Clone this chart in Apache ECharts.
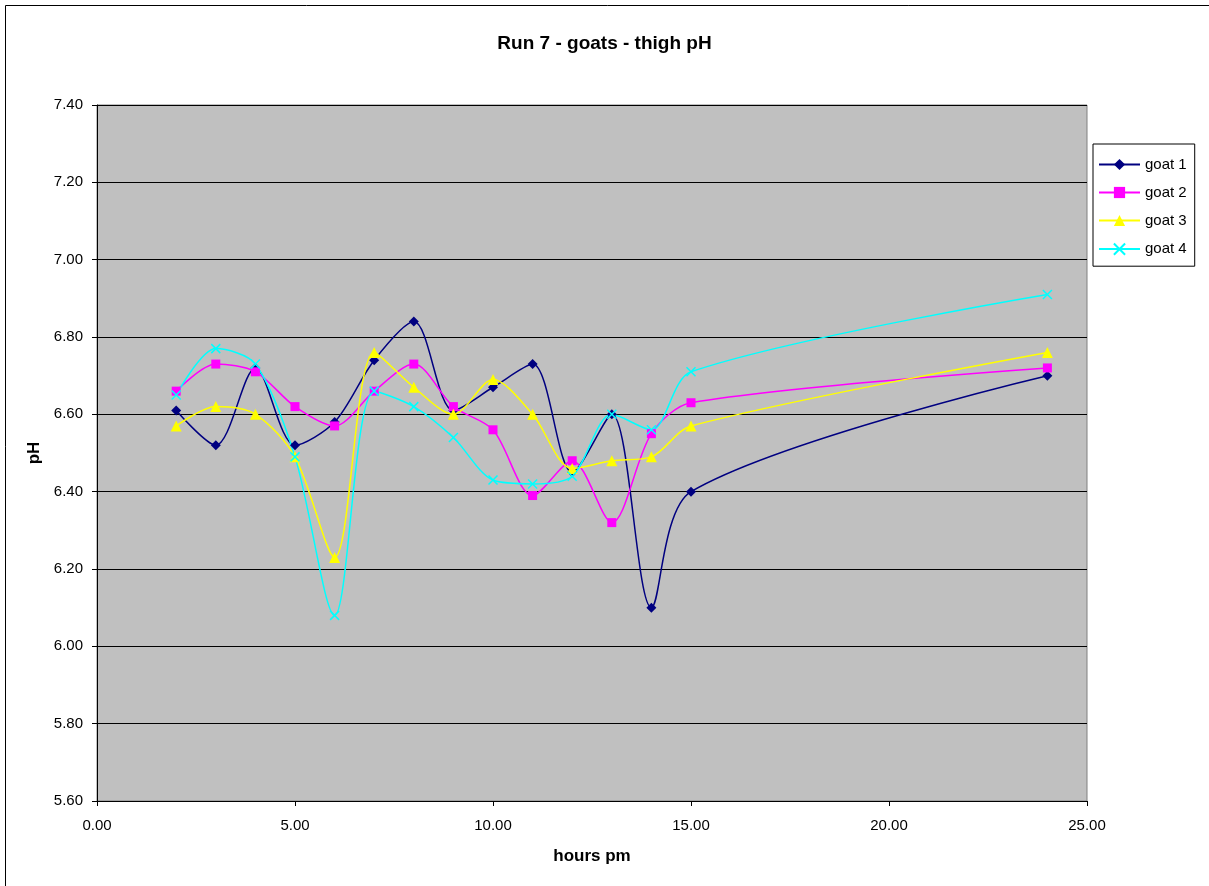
<!DOCTYPE html>
<html><head><meta charset="utf-8">
<script src="https://cdn.jsdelivr.net/npm/echarts@6/dist/echarts.min.js"></script>
<style>html,body{margin:0;padding:0;background:#fff}#c{width:1209px;height:886px}</style>
</head><body><div id="c"></div>
<script>
const hours = [2,3,4,5,6,7,8,9,10,11,12,13,14,15,24];
const goat1 = [6.61,6.52,6.72,6.52,6.58,6.74,6.84,6.61,6.67,6.73,6.45,6.60,6.10,6.40,6.70];
const goat2 = [6.66,6.73,6.71,6.62,6.57,6.66,6.73,6.62,6.56,6.39,6.48,6.32,6.55,6.63,6.72];
const goat3 = [6.57,6.62,6.60,6.49,6.23,6.76,6.67,6.60,6.69,6.60,6.46,6.48,6.49,6.57,6.76];
const goat4 = [6.65,6.77,6.73,6.49,6.08,6.66,6.62,6.54,6.43,6.42,6.44,6.60,6.56,6.71,6.91];
const names = ['goat 1','goat 2','goat 3','goat 4'];
const colors = ['#000080','#FF00FF','#FFFF00','#00FFFF'];
const FONT = '"Liberation Sans", Arial, sans-serif';

function pts(ys){ return hours.map((h,i)=>[h, ys[i]]); }
const symbols = ['diamond','rect','triangle','path://M0,0L10,10M10,0L0,10'];
const sizes = [10,9,11,9];
const data = [goat1,goat2,goat3,goat4];

const series = data.map((d,i)=>({
  name: names[i], type:'line', data: pts(d), smooth: 0.3,
  symbol: symbols[i], symbolSize: sizes[i], showAllSymbol: true,
  lineStyle:{color:colors[i], width:1.5},
  itemStyle: i===3 ? {color:'none', borderColor:colors[i], borderWidth:1.5} : {color:colors[i], borderWidth:0},
  emphasis:{disabled:true}, animation:false
}));

const chart = echarts.init(document.getElementById('c'), null, {renderer:'canvas'});
chart.setOption({
  animation:false,
  backgroundColor:'#fff',
  title:{text:'Run 7 - goats - thigh pH', left:'center', top:29,
    textStyle:{fontFamily:FONT, fontSize:19, fontWeight:'bold', color:'#000'}},
  graphic:[{type:'rect', shape:{x:5.5,y:5.5,width:1220,height:900}, style:{fill:'none', stroke:'#000', lineWidth:1}, silent:true, z:-1}],
  grid:{left:97, right:122, top:105, bottom:85, show:true, backgroundColor:'#C0C0C0', borderColor:'#808080', borderWidth:1},
  legend:{orient:'vertical', left:1093, top:144, padding:[13,8,9,5], itemGap:13, itemWidth:41, itemHeight:14,
    backgroundColor:'#fff', borderColor:'#000', borderWidth:1,
    textStyle:{fontFamily:FONT, fontSize:15, color:'#000'}, data:names},
  xAxis:{type:'value', min:0, max:25, interval:5, name:'hours pm', nameLocation:'middle', nameGap:47,
    nameTextStyle:{fontFamily:FONT, fontSize:17, fontWeight:'bold', color:'#000'},
    axisLine:{show:true, lineStyle:{color:'#000'}}, axisTick:{show:true, inside:false, length:5, lineStyle:{color:'#000'}},
    splitLine:{show:false},
    axisLabel:{fontFamily:FONT, fontSize:15, color:'#000', margin:17, formatter:v=>v.toFixed(2)}},
  yAxis:{type:'value', min:5.6, max:7.4, interval:0.2, name:'pH', nameLocation:'middle', nameGap:52,
    nameTextStyle:{fontFamily:FONT, fontSize:17, fontWeight:'bold', color:'#000'},
    axisLine:{show:true, lineStyle:{color:'#000'}}, axisTick:{show:true, inside:false, length:5, lineStyle:{color:'#000'}},
    splitLine:{show:true, lineStyle:{color:'#000', width:1}},
    axisLabel:{fontFamily:FONT, fontSize:15, color:'#000', margin:14, formatter:v=>v.toFixed(2)}},
  series: series
});
</script></body></html>
